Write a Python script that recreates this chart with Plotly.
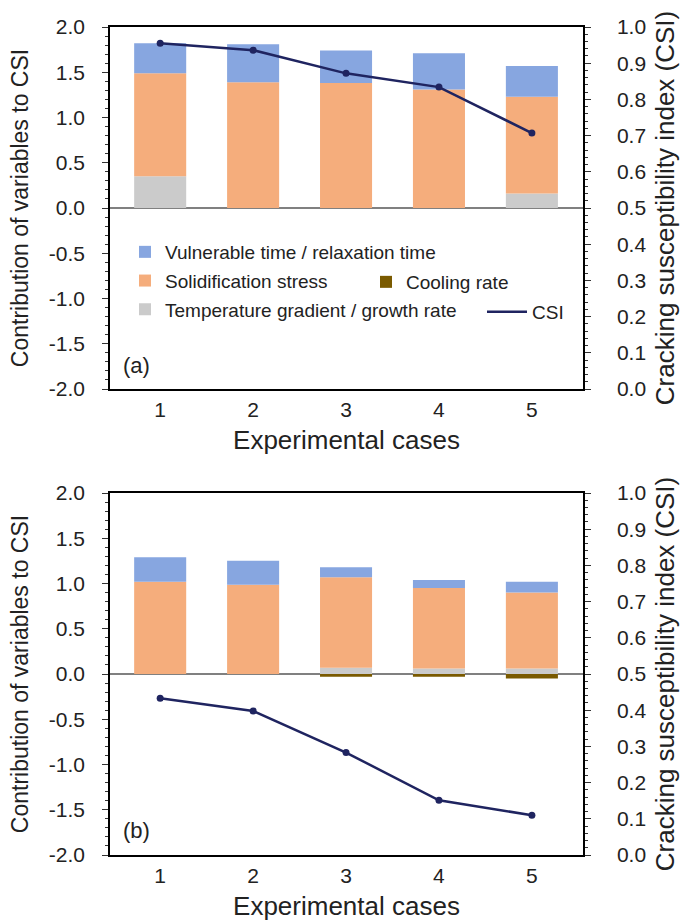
import plotly.graph_objects as go

cases = [1, 2, 3, 4, 5]

# Panel (a)
a_temp = [0.35, 0.0, 0.0, 0.0, 0.16]
a_solid = [1.14, 1.39, 1.38, 1.31, 1.07]
a_vuln = [0.33, 0.42, 0.36, 0.40, 0.34]
a_cool = [0.0, 0.0, 0.0, 0.0, 0.0]
a_csi = [0.955, 0.936, 0.872, 0.834, 0.707]

# Panel (b)
b_temp = [0.0, 0.0, 0.07, 0.06, 0.06]
b_solid = [1.02, 0.985, 1.00, 0.89, 0.84]
b_vuln = [0.27, 0.265, 0.11, 0.09, 0.12]
b_cool = [0.0, 0.0, -0.03, -0.03, -0.05]
b_csi = [0.433, 0.398, 0.283, 0.151, 0.110]

left_tickvals = [-2.0, -1.5, -1.0, -0.5, 0.0, 0.5, 1.0, 1.5, 2.0]
left_ticktext = ["-2.0", "-1.5", "-1.0", "-0.5", "0.0", "0.5", "1.0", "1.5", "2.0"]

names = ["Vulnerable time / relaxation time", "Solidification stress",
         "Temperature gradient / growth rate", "Cooling rate", "CSI"]

C_VULN = "#87a6e0"
C_SOLID = "#f5ad7c"
C_TEMP = "#cbcbcb"
C_COOL = "#7a5a00"
C_CSI = "#1f2460"

FONT = "Liberation Sans, Arial, sans-serif"
W, H = 689, 922

fig = go.Figure()

def add_panel(xa, ya, ya2, temp, solid, vuln, cool, csi, show):
    specs = [
        (temp, names[2], C_TEMP, 3, "legend"),
        (solid, names[1], C_SOLID, 2, "legend"),
        (vuln, names[0], C_VULN, 1, "legend"),
        (cool, names[3], C_COOL, 4, "legend2"),
    ]
    for vals, nm, col, rank, lg in specs:
        fig.add_trace(go.Bar(
            x=cases, y=vals, name=nm, marker=dict(color=col, line=dict(width=0)),
            width=0.56, xaxis=xa, yaxis=ya, showlegend=show,
            legendrank=rank, legendgroup=nm, legend=lg))
    fig.add_trace(go.Scatter(
        x=cases, y=csi, name=names[4], mode="lines",
        line=dict(color=C_CSI, width=2.5),
        xaxis=xa, yaxis=ya2, showlegend=show, legendrank=5,
        legendgroup="CSI", legend="legend3"))
    fig.add_trace(go.Scatter(
        x=cases, y=csi, name=names[4], mode="markers",
        marker=dict(size=7, color=C_CSI),
        xaxis=xa, yaxis=ya2, showlegend=False, legendgroup="CSI", legend="legend3"))

add_panel("x", "y", "y2", a_temp, a_solid, a_vuln, a_cool, a_csi, True)
add_panel("x2", "y3", "y4", b_temp, b_solid, b_vuln, b_cool, b_csi, False)

xdom = [110 / W, 583 / W]
ydom_a = [1 - 389 / H, 1 - 27 / H]
ydom_b = [1 - 855 / H, 1 - 493 / H]

tickfont = dict(family=FONT, size=21, color="#222")

def xaxis(anchor):
    return dict(domain=xdom, anchor=anchor, range=[0.46, 5.55], tickvals=cases,
                ticks="", showline=True, linecolor="black", linewidth=1.5,
                mirror=True, showgrid=False, zeroline=False, tickfont=tickfont,
                ticklabelstandoff=1,
                title=dict(text="Experimental cases",
                           font=dict(family=FONT, size=26, color="#222"), standoff=11),
                automargin=False)

def yleft(dom, anchor):
    return dict(domain=dom, anchor=anchor, range=[-2, 2], tickvals=left_tickvals,
                ticktext=left_ticktext,
                ticks="outside", ticklen=6, tickwidth=1.2, tickcolor="#333",
                minor=dict(dtick=0.1, ticks="outside", ticklen=3, tickcolor="#333"),
                showline=True, linecolor="black", linewidth=1.5, mirror=True,
                showgrid=False, zeroline=True, zerolinecolor="#808080", zerolinewidth=2,
                tickfont=tickfont, ticklabelstandoff=13,
                title=dict(text="Contribution of variables to CSI",
                           font=dict(family=FONT, size=23, color="#222"), standoff=14),
                automargin=False)

def yright(overlay, anchor):
    return dict(overlaying=overlay, anchor=anchor, side="right", range=[0, 1], dtick=0.1,
                tickformat=".1f", ticks="outside", ticklen=6, tickwidth=1.2, tickcolor="#333",
                minor=dict(dtick=0.02, ticks="outside", ticklen=3, tickcolor="#333"),
                showline=True, linecolor="black", linewidth=1.5, showgrid=False,
                zeroline=False, tickfont=tickfont, ticklabelstandoff=22,
                title=dict(text="Cracking susceptibility index (CSI)",
                           font=dict(family=FONT, size=26, color="#222"), standoff=10),
                automargin=False)

legfont = dict(family=FONT, size=19, color="#222")

fig.update_layout(
    width=W, height=H, margin=dict(l=0, r=0, t=0, b=0),
    paper_bgcolor="white", plot_bgcolor="white",
    barmode="relative", bargap=0.4,
    font=dict(family=FONT, color="#222"),
    xaxis=xaxis("y"), yaxis=yleft(ydom_a, "x"), yaxis2=yright("y", "x"),
    xaxis2=xaxis("y3"), yaxis3=yleft(ydom_b, "x2"), yaxis4=yright("y3", "x2"),
    legend=dict(x=125 / W, y=1 - 233 / H, xanchor="left", yanchor="top",
                bgcolor="rgba(0,0,0,0)", font=legfont,
                traceorder="grouped", tracegroupgap=1, itemwidth=30),
    legend2=dict(x=366 / W, y=1 - 263 / H, xanchor="left", yanchor="top",
                 bgcolor="rgba(0,0,0,0)", font=legfont, itemwidth=30),
    legend3=dict(x=482 / W, y=1 - 293 / H, xanchor="left", yanchor="top",
                 bgcolor="rgba(0,0,0,0)", font=legfont, itemwidth=40),
    annotations=[
        dict(text="(a)", x=121 / W, y=1 - 365 / H, xref="paper", yref="paper",
             xanchor="left", yanchor="middle", showarrow=False,
             font=dict(family=FONT, size=22, color="#222")),
        dict(text="(b)", x=121 / W, y=1 - 830 / H, xref="paper", yref="paper",
             xanchor="left", yanchor="middle", showarrow=False,
             font=dict(family=FONT, size=22, color="#222")),
    ],
)

fig.write_html("out.html")
